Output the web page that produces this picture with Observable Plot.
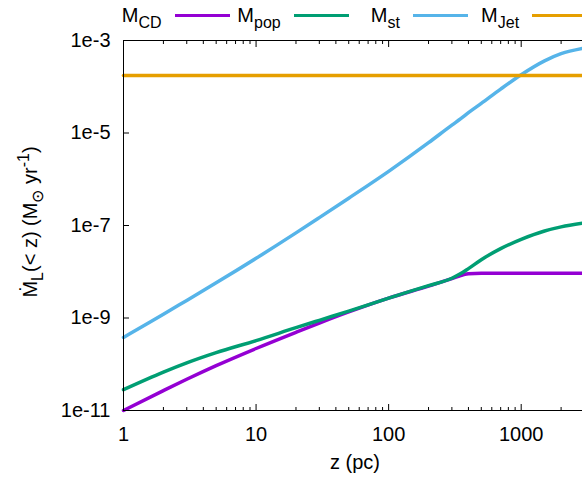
<!DOCTYPE html>
<html><head><meta charset="utf-8">
<script src="https://cdn.jsdelivr.net/npm/d3@7"></script>
<script src="https://cdn.jsdelivr.net/npm/@observablehq/plot@0.6"></script>
<style>
body{margin:0;background:#fff;}
#wrap{position:relative;width:582px;height:481px;font-family:"Liberation Sans",Arial,sans-serif;font-size:20px;color:#000;overflow:hidden;background:#fff;}
#legend{position:relative;height:28px;}
.lab{position:absolute;top:5px;line-height:20px;white-space:nowrap;}
.sw{position:absolute;height:3.5px;}
sub{font-size:16px;vertical-align:-6px;line-height:0;}
sup{font-size:16px;vertical-align:8px;line-height:0;}
#ylab{position:absolute;left:30px;top:222px;transform:translate(-50%,-50%) rotate(-90deg);white-space:nowrap;line-height:20px;}
#xlab{position:absolute;left:355px;top:452px;transform:translateX(-50%);white-space:nowrap;line-height:20px;}
#chart svg{display:block;}
</style></head>
<body><div id="wrap"><div id="legend"></div><div id="chart"></div><div id="ylab">Ṁ<sub>L</sub>(&lt; z) (M<sub>⊙</sub> yr<sup>-1</sup>)</div><div id="xlab">z (pc)</div></div>
<script>
// ---- data ----
const zPc  = [1, 2, 3, 5, 10, 20, 30, 50, 100, 200, 300, 350, 400, 500, 700, 1000, 1500, 2000, 2900];
const mCD  = [1.00e-11, 2.69e-11, 4.73e-11, 9.33e-11, 2.19e-10, 4.90e-10, 7.76e-10, 1.35e-9, 2.69e-9, 4.90e-9, 7.08e-9, 8.32e-9, 9.02e-9, 9.33e-9, 9.33e-9, 9.33e-9, 9.33e-9, 9.33e-9, 9.33e-9];
const mPop = [2.82e-11, 6.76e-11, 1.07e-10, 1.78e-10, 3.24e-10, 6.17e-10, 8.91e-10, 1.41e-9, 2.69e-9, 5.01e-9, 7.24e-9, 9.12e-9, 1.17e-8, 1.82e-8, 3.16e-8, 5.01e-8, 7.59e-8, 9.33e-8, 1.12e-7];
const mSt  = [3.80e-10, 1.20e-9, 2.40e-9, 5.75e-9, 1.95e-8, 6.92e-8, 1.48e-7, 3.89e-7, 1.48e-6, 6.17e-6, 1.48e-5, 2.04e-5, 2.75e-5, 4.37e-5, 8.91e-5, 1.82e-4, 3.63e-4, 5.19e-4, 6.76e-4];
const zJet = [1, 2900];
const mJet = [1.75e-4, 1.75e-4];

const seriesKeys = ["CD", "pop", "st", "Jet"];
const seriesSub  = ["CD", "pop", "st", "Jet"];
const seriesColors = ["#9400d3", "#009e73", "#56b4e9", "#e69f00"];

const xTicks = [1, 10, 100, 1000];
const xTickLabels = ["1", "10", "100", "1000"];
const yTicks = [1e-11, 1e-9, 1e-7, 1e-5, 1e-3];
const yTickLabels = ["1e-11", "1e-9", "1e-7", "1e-5", "1e-3"];

// ---- build table ----
const rows = [];
const add = (key, zs, vs) => zs.forEach((z, i) => rows.push({series: key, z, v: vs[i]}));
add("CD", zPc, mCD);
add("pop", zPc, mPop);
add("st", zPc, mSt);
add("Jet", zJet, mJet);

const xMinor = [];
for (const d of [1, 10, 100, 1000]) for (let k = 2; k <= 9; k++) if (d * k <= 2900) xMinor.push(d * k);

// ---- legend ----
const legend = document.getElementById("legend");
seriesKeys.forEach((k, i) => {
  const step = 119.2;
  const lab = document.createElement("span");
  lab.className = "lab";
  lab.style.right = (582 - (161.5 + i * step)) + "px";
  lab.innerHTML = "M<sub>" + seriesSub[i] + "</sub>";
  legend.appendChild(lab);
  const sw = document.createElement("div");
  sw.className = "sw";
  sw.style.left = (174.5 + i * step) + "px";
  sw.style.top = "13.85px";
  sw.style.width = "55.6px";
  sw.style.background = seriesColors[i];
  legend.appendChild(sw);
});

// ---- chart ----
const black = "#000";
const chart = Plot.plot({
  width: 582,
  height: 453,
  marginTop: 12,
  marginBottom: 71,
  marginLeft: 123,
  marginRight: 0,
  style: {fontFamily: '"Liberation Sans", Arial, sans-serif', fontSize: "20px", background: "#fff", color: "#000"},
  x: {type: "log", domain: [1, 2900]},
  y: {type: "log", domain: [1e-11, 1e-3]},
  color: {domain: seriesKeys, range: seriesColors},
  marks: [
    ...seriesKeys.map(k => Plot.line(rows.filter(r => r.series === k), {x: "z", y: "v", stroke: "series", strokeWidth: 3.5, curve: "monotone-x"})),
    Plot.ruleX([1], {stroke: black, strokeWidth: 1}),
    Plot.ruleY([1e-11, 1e-3], {stroke: black, strokeWidth: 1}),
    Plot.axisX(xTicks, {anchor: "bottom", tickSize: 0, tickPadding: 16.5, tickFormat: d => xTickLabels[xTicks.indexOf(d)], label: null}),
    Plot.axisX(xTicks, {anchor: "bottom", tickSize: -6, tickFormat: () => "", label: null, stroke: black}),
    Plot.axisX(xMinor, {anchor: "bottom", tickSize: -3, tickFormat: () => "", label: null, stroke: black}),
    Plot.axisX(xTicks, {anchor: "top", tickSize: -6, tickFormat: () => "", label: null, stroke: black}),
    Plot.axisX(xMinor, {anchor: "top", tickSize: -3, tickFormat: () => "", label: null, stroke: black}),
    Plot.axisY(yTicks, {anchor: "left", tickSize: 0, tickPadding: 13, tickFormat: d => yTickLabels[yTicks.indexOf(d)], label: null}),
    Plot.axisY(yTicks, {anchor: "left", tickSize: -6, tickFormat: () => "", label: null, stroke: black})
  ]
});
document.getElementById("chart").appendChild(chart);
</script>
</body></html>
